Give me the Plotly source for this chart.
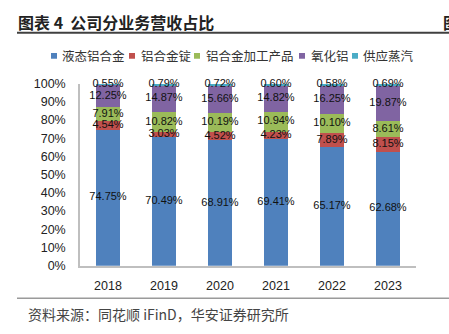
import plotly.graph_objects as go

W, H = 449, 334

years = ["2018", "2019", "2020", "2021", "2022", "2023"]
series_names = ["液态铝合金", "铝合金锭", "铝合金加工产品", "氧化铝", "供应蒸汽"]
liquid_alloy = [74.75, 70.49, 68.91, 69.41, 65.17, 62.68]
alloy_ingot = [4.54, 3.03, 4.52, 4.23, 7.89, 8.15]
alloy_products = [7.91, 10.82, 10.19, 10.94, 10.10, 8.61]
alumina = [12.25, 14.87, 15.66, 14.82, 16.25, 19.87]
steam = [0.55, 0.79, 0.72, 0.60, 0.58, 0.69]
y_ticks = [i / 10 for i in range(11)]

colors = ["#4F81BD", "#C0504D", "#9BBB59", "#8064A2", "#4BACC6"]
all_series = [liquid_alloy, alloy_ingot, alloy_products, alumina, steam]


def px(x):
    return x / W


def py(y):
    return 1 - y / H


fig = go.Figure()
for name, vals, col in zip(series_names, all_series, colors):
    fig.add_trace(go.Bar(
        x=years, y=[v / 100 for v in vals], name=name,
        marker=dict(color=col, line=dict(width=0)),
        showlegend=False, hoverinfo="skip",
    ))

# data labels centred in each stacked segment (drawn on top of all bars)
base = [0.0] * len(years)
for vals in all_series:
    mids = [(b + v / 2) / 100 for b, v in zip(base, vals)]
    fig.add_trace(go.Scatter(
        x=years, y=mids, mode="text", text=[f"{v:.2f}%" for v in vals],
        textposition="middle center", cliponaxis=False, showlegend=False,
        textfont=dict(family="Liberation Sans, Arial", size=11, color="#111111"),
        hoverinfo="skip",
    ))
    base = [b + v for b, v in zip(base, vals)]

shapes = [
    dict(type="line", xref="paper", yref="paper", x0=px(17), x1=px(449), y0=py(27), y1=py(27),
         line=dict(color="#404040", width=2)),
    dict(type="line", xref="paper", yref="paper", x0=px(17), x1=px(449), y0=py(304), y1=py(304),
         line=dict(color="#9a9a9a", width=1.5)),
]
annotations = [
    dict(text="<b>图表 4  公司分业务营收占比</b>", xref="paper", yref="paper", x=px(16), y=py(16),
         xanchor="left", yanchor="middle", showarrow=False,
         font=dict(family="Noto Sans CJK SC", size=16, color="#222222")),
    dict(text="<b>图</b>", xref="paper", yref="paper", x=px(441), y=py(16),
         xanchor="left", yanchor="middle", showarrow=False,
         font=dict(family="Noto Sans CJK SC", size=16, color="#222222")),
    dict(text="资料来源：同花顺 iFinD，华安证券研究所", xref="paper", yref="paper", x=px(26), y=py(320),
         xanchor="left", yanchor="middle", showarrow=False,
         font=dict(family="Noto Sans CJK SC", size=14, color="#444444")),
]

leg_sq_x = [51, 129, 194, 299, 352]
leg_tx_x = [60, 139, 204, 309, 361]
for name, col, sx, tx in zip(series_names, colors, leg_sq_x, leg_tx_x):
    shapes.append(dict(type="rect", xref="paper", yref="paper", x0=px(sx), x1=px(sx + 6),
                       y0=py(54), y1=py(48), fillcolor=col, line=dict(width=0)))
    annotations.append(dict(text=name, xref="paper", yref="paper", x=px(tx), y=py(51),
                            xanchor="left", yanchor="middle", showarrow=False,
                            font=dict(family="Noto Sans CJK SC", size=12.5, color="#333333")))

fig.update_layout(
    width=W, height=H, barmode="stack", bargap=0.57,
    margin=dict(l=0, r=0, t=0, b=0),
    paper_bgcolor="white", plot_bgcolor="white",
    shapes=shapes, annotations=annotations,
    xaxis=dict(domain=[px(80), px(416)], showgrid=False, showline=True, linecolor="#BFBFBF",
               linewidth=1.5, ticks="", ticklabelstandoff=8,
               tickfont=dict(family="Liberation Sans, Arial", size=12.5, color="#222222")),
    yaxis=dict(domain=[py(270), py(80)], range=[0, 1], tickvals=y_ticks, tickformat=".0%",
               showgrid=False, showline=True, linecolor="#BFBFBF", linewidth=1.5, ticks="",
               ticklabelstandoff=10, zeroline=False,
               tickfont=dict(family="Liberation Sans, Arial", size=12.5, color="#222222")),
)

fig.write_html("out.html")
